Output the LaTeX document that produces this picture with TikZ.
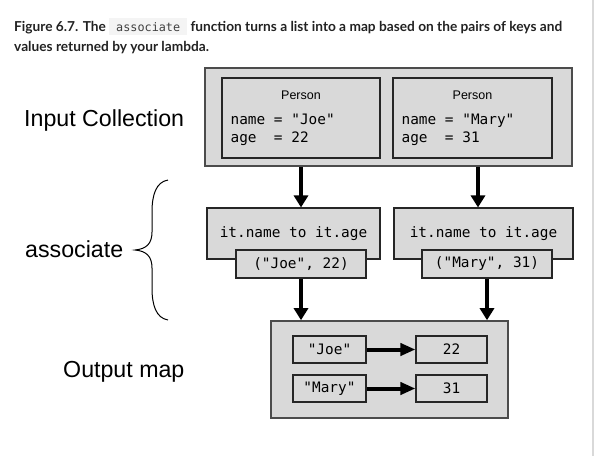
\documentclass[tikz,border=0pt]{standalone}
\usepackage{fontspec}
\setmainfont{Liberation Sans}
\newfontfamily\capfont{Lato}
\newfontfamily\codefont{DejaVu Sans Mono}
\usetikzlibrary{arrows.meta,positioning,calc}

\definecolor{boxgray}{RGB}{217,217,217}
\definecolor{codebg}{RGB}{244,244,244}
\definecolor{captext}{RGB}{34,34,34}
\newcommand{\capcode}[1]{{\setlength{\fboxsep}{4pt}\colorbox{codebg}{\hspace{3pt}\fontsize{11.8}{14}\codefont\mdseries\color{black!75}#1\hspace{3pt}}}}

\begin{document}
\begin{tikzpicture}[x=1pt, y=-1pt,
    holder/.style={rectangle, draw=black!70, line width=1.6pt, fill=boxgray, inner sep=0pt},
    cell/.style={rectangle, draw=black!85, line width=1.1pt, fill=boxgray, inner sep=0pt, font=\fontsize{14.4}{17}\codefont},
    codeline/.style={anchor=base west, inner sep=0pt, font=\fontsize{14.4}{17}\codefont},
    typelabel/.style={anchor=base, inner sep=0pt, font=\fontsize{12.5}{15}\selectfont},
    sidelabel/.style={anchor=base west, inner sep=0pt, font=\fontsize{23.2}{27}\selectfont},
    caption/.style={anchor=base west, inner sep=0pt, font=\fontsize{13.7}{16}\capfont\bfseries, text=captext},
    flow/.style={-{Triangle[length=12pt,width=14pt]}, line width=4.5pt},
    pairflow/.style={-{Triangle[length=15pt,width=12pt]}, line width=4pt}]
    \useasboundingbox (0,0) rectangle (595,456);
    \draw[black!15, line width=1.5pt] (593,0) -- (593,456);

    %% Caption
    \node[caption] (cap1) at (14,31) {Figure 6.7. The \capcode{associate} function turns a list into a map based on the pairs of keys and};
    \node[caption] (cap2) at (14,51) {values returned by your lambda.};

    %% Input collection
    \node[holder, minimum width=367pt, minimum height=98pt] (input) at (388.5,117) {};
    \node[cell, minimum width=158pt, minimum height=80pt] (joe) at (301,118) {};
    \node[cell, minimum width=159pt, minimum height=80pt] (mary) at (472.5,118) {};
    \node[typelabel] (joeType) at ($(joe.north)+(0,22)$) {Person};
    \node[codeline] (joeName) at ($(joe.north west)+(9,47)$) {name = "Joe"};
    \node[codeline] (joeAge) at ($(joe.north west)+(9,65)$) {age~~= 22};
    \node[typelabel] (maryType) at ($(mary.north)+(0,22)$) {Person};
    \node[codeline] (maryName) at ($(mary.north west)+(9,47)$) {name = "Mary"};
    \node[codeline] (maryAge) at ($(mary.north west)+(9,65)$) {age~~= 31};

    %% associate
    \node[cell, minimum width=173pt, minimum height=51pt] (assocJoe) at (293.5,233.5) {};
    \node[cell, minimum width=179pt, minimum height=51pt] (assocMary) at (483.5,233.5) {};
    \node[anchor=base, inner sep=0pt, font=\fontsize{14.4}{17}\codefont] (lambdaJoe) at ($(assocJoe.north)+(0,30)$) {it.name to it.age};
    \node[anchor=base, inner sep=0pt, font=\fontsize{14.4}{17}\codefont] (lambdaMary) at ($(assocMary.north)+(0,30)$) {it.name to it.age};
    \node[cell, minimum width=130pt, minimum height=28pt] (pairJoe) at (301,264) {("Joe", 22)};
    \node[cell, minimum width=130pt, minimum height=28pt] (pairMary) at (487,264) {("Mary", 31)};

    %% Output map
    \node[holder, minimum width=237pt, minimum height=97pt] (outmap) at (389.5,369.5) {};
    \node[cell, minimum width=73pt, minimum height=27pt] (keyJoe) at (329.5,349.5) {"Joe"};
    \node[cell, minimum width=71pt, minimum height=27pt] (valJoe) at (451.5,349.5) {22};
    \node[cell, minimum width=73pt, minimum height=27pt] (keyMary) at (329.5,388.5) {"Mary"};
    \node[cell, minimum width=71pt, minimum height=27pt] (valMary) at (451.5,388.5) {31};

    %% Arrows
    \coordinate (rightFlow) at ($(mary)!0.5!(assocMary)$);
    \draw[flow] (input.south -| joe) -- (assocJoe.north -| joe);
    \draw[flow] (input.south -| rightFlow) -- (assocMary.north -| rightFlow);
    \draw[flow] (pairJoe.south -| joe) -- (outmap.north -| joe);
    \draw[flow] (pairMary.south) -- (outmap.north -| pairMary);
    \draw[pairflow] (keyJoe) -- (valJoe);
    \draw[pairflow] (keyMary) -- (valMary);

    %% Side labels
    \node[sidelabel] (inLabel) at (24,126) {Input Collection};
    \node[sidelabel] (assocLabel) at (25,257) {associate};
    \node[sidelabel] (outLabel) at (63,377) {Output map};
    \draw[line width=1pt] (168,180) .. controls (156,182) and (152,195) .. (152,212) -- (152,232)
        .. controls (152,244) and (146,249) .. (135,250)
        .. controls (146,251) and (152,256) .. (152,268) -- (152,288)
        .. controls (152,305) and (156,318) .. (168,320);
\end{tikzpicture}
\end{document}
